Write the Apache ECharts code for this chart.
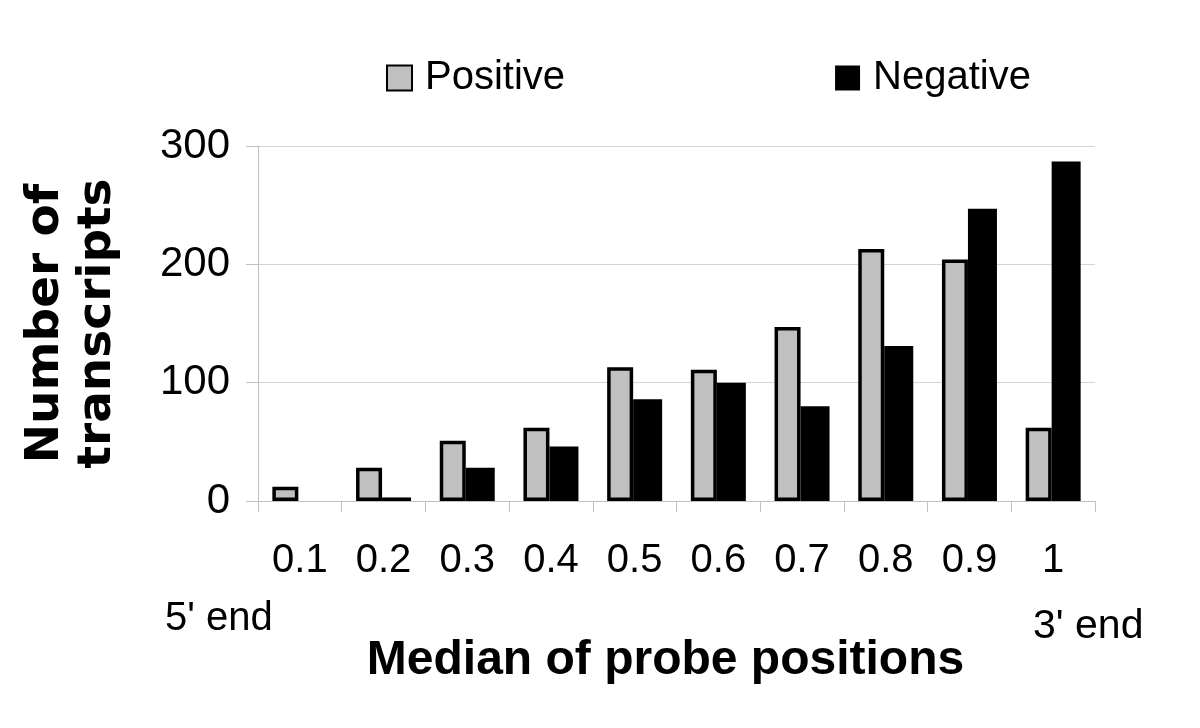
<!DOCTYPE html>
<html>
<head>
<meta charset="utf-8">
<script src="https://cdn.jsdelivr.net/npm/echarts@6/dist/echarts.min.js"></script>
<style>
html,body{margin:0;padding:0;background:#fff;}
#chart{width:1200px;height:728px;}
</style>
</head>
<body>
<div id="chart"></div>
<script>
const categories = ['0.1','0.2','0.3','0.4','0.5','0.6','0.7','0.8','0.9','1'];
const positiveValues = [12, 28, 51, 62, 113, 111, 147, 213, 204, 62];
const negativeValues = [0, 3, 28, 46, 86, 100, 80, 131, 247, 287];
const yTicks = { min: 0, max: 300, interval: 100 };

const FONT = "'Liberation Sans', Arial, sans-serif";
const chart = echarts.init(document.getElementById('chart'), null, { renderer: 'canvas' });
chart.setOption({
  backgroundColor: '#ffffff',
  animation: false,
  legend: {
    left: 381,
    top: 53,
    itemWidth: 25,
    itemHeight: 25,
    itemGap: 270,
    icon: 'rect',
    textStyle: { fontFamily: FONT, fontSize: 40, color: '#000', padding: [0, 0, 0, 8] },
    data: ['Positive', 'Negative']
  },
  grid: { left: 258, right: 105, top: 146, bottom: 227, containLabel: false },
  xAxis: {
    type: 'category',
    data: categories,
    name: 'Median of probe positions',
    nameLocation: 'middle',
    nameGap: 136,
    nameTextStyle: { fontFamily: FONT, fontSize: 48, fontWeight: 'bold', color: '#000', padding: [0, 22, 0, 0] },
    axisLine: { show: true, lineStyle: { color: '#c0c0c0', width: 1 } },
    axisTick: { show: true, length: 11, alignWithLabel: false, lineStyle: { color: '#c0c0c0' } },
    axisLabel: { fontFamily: FONT, fontSize: 40, color: '#000', margin: 40 },
    splitLine: { show: false }
  },
  yAxis: {
    type: 'value',
    min: yTicks.min,
    max: yTicks.max,
    interval: yTicks.interval,
    name: 'Number of\ntranscripts',
    nameLocation: 'middle',
    nameGap: 134,
    nameRotate: 90,
    nameTextStyle: { fontFamily: "'DejaVu Sans', sans-serif", fontSize: 47, fontWeight: 'bold', color: '#000', lineHeight: 52 },
    axisLine: { show: true, lineStyle: { color: '#c0c0c0', width: 1 } },
    axisTick: { show: true, length: 12, lineStyle: { color: '#c0c0c0' } },
    axisLabel: { fontFamily: FONT, fontSize: 42, color: '#000', margin: 28 },
    splitLine: { show: true, lineStyle: { color: '#d4d4d4', width: 1 } }
  },
  series: [
    {
      name: 'Positive',
      type: 'bar',
      data: positiveValues,
      barWidth: 26,
      barGap: '0%',
      itemStyle: { color: '#c0c0c0', borderColor: '#000', borderWidth: 3.5 }
    },
    {
      name: 'Negative',
      type: 'bar',
      data: negativeValues,
      barWidth: 29,
      barGap: '0%',
      itemStyle: { color: '#000', borderWidth: 0 }
    }
  ],
  graphic: [
    { type: 'text', left: 165, top: 599, style: { text: "5' end", fontFamily: FONT, fontSize: 40, fill: '#000' } },
    { type: 'text', left: 1033, top: 606, style: { text: "3' end", fontFamily: FONT, fontSize: 41, fill: '#000' } }
  ]
});
</script>
</body>
</html>
